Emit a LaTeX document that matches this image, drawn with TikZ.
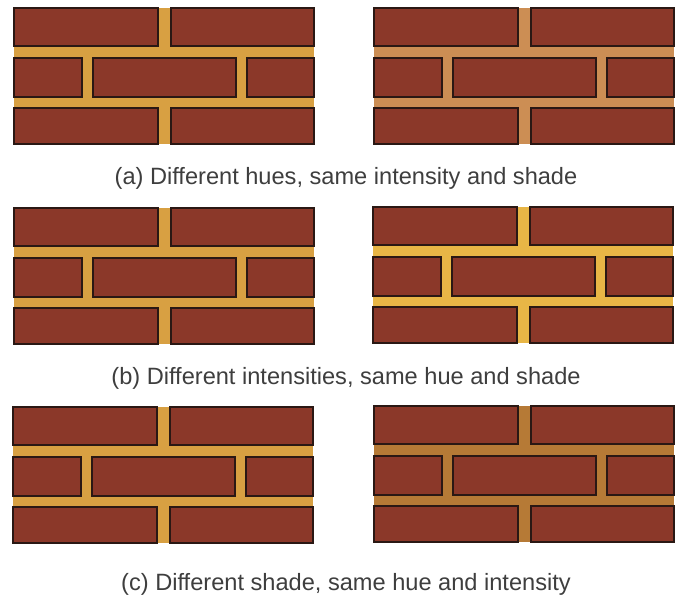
\documentclass[tikz,border=0pt]{standalone}
\usepackage{fontspec}
\setmainfont{Liberation Sans}
\definecolor{brickred}{RGB}{139,56,41}
\definecolor{brickline}{RGB}{42,24,20}
\definecolor{mortarA}{RGB}{216,160,66}
\definecolor{mortarB}{RGB}{204,142,84}
\definecolor{mortarC}{RGB}{232,182,70}
\definecolor{mortarD}{RGB}{182,122,54}
\definecolor{captiongray}{RGB}{62,62,62}
\tikzset{
  brick/.style={fill=brickred, draw=brickline, line width=1.2pt},
  caption/.style={text=captiongray, font=\fontsize{23.6}{28}\selectfont}
}
% one wall: top-left corner, mortar colour
\newcommand{\brickwall}[2]{%
  \begin{scope}[shift={(#1)}]
    \fill[#2] (0,0) rectangle (300,136);
    \draw[brick] (0,0) rectangle (144,38);
    \draw[brick] (157,0) rectangle (300,38);
    \draw[brick] (0,50) rectangle (68,89);
    \draw[brick] (79,50) rectangle (222,89);
    \draw[brick] (233,50) rectangle (300,89);
    \draw[brick] (0,100) rectangle (144,136);
    \draw[brick] (157,100) rectangle (300,136);
  \end{scope}}
\begin{document}
\begin{tikzpicture}[x=1pt, y=-1pt]
\useasboundingbox (0,0) rectangle (680,599);
\coordinate (A1) at (14,8);
\coordinate (A2) at (374,8);
\coordinate (B1) at (14,208);
\coordinate (B2) at (373,207);
\coordinate (C1) at (13,407);
\coordinate (C2) at (374,406);
\brickwall{A1}{mortarA}
\brickwall{A2}{mortarB}
\brickwall{B1}{mortarA}
\brickwall{B2}{mortarC}
\brickwall{C1}{mortarA}
\brickwall{C2}{mortarD}
\node[caption] (capA) at (346,178) {(a) Different hues, same intensity and shade};
\node[caption] (capB) at (346,378) {(b) Different intensities, same hue and shade};
\node[caption] (capC) at (346,584) {(c) Different shade, same hue and intensity};
\end{tikzpicture}
\end{document}
